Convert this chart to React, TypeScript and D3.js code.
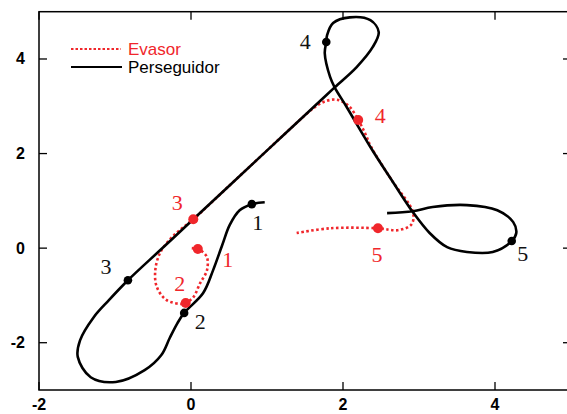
import React from "react";
import * as d3 from "d3";

// Trajectory samples in data units [x, y]
const evasorPath: [number, number][] = [
  [0.01, 0.0], [0.09, -0.02], [0.14, -0.06], [0.21, -0.19], [0.21, -0.47],
  [0.12, -0.74], [0.03, -1.04], [-0.07, -1.16], [-0.11, -1.18], [-0.32, -1.1],
  [-0.45, -0.82], [-0.47, -0.47], [-0.41, -0.11], [-0.28, 0.18], [-0.14, 0.39],
  [0.03, 0.61], [0.5, 1.315], [0.91, 1.93], [1.3, 2.515], [1.5, 2.81],
  [1.62, 2.97], [1.76, 3.1], [1.92, 3.14], [2.08, 3.0], [2.2, 2.71],
  [2.29, 2.43], [2.37, 2.14], [2.64, 1.44], [2.92, 0.76], [2.9, 0.5],
  [2.72, 0.38], [2.46, 0.42], [1.83, 0.42], [1.39, 0.32],
];

const perseguidorPath: [number, number][] = [
  [0.97, 0.97], [0.8, 0.93], [0.64, 0.8], [0.51, 0.49], [0.41, 0.06],
  [0.29, -0.47], [0.16, -0.95], [-0.09, -1.37], [-0.18, -1.59], [-0.28, -1.9],
  [-0.39, -2.26], [-0.61, -2.58], [-0.99, -2.83], [-1.32, -2.73], [-1.49, -2.3],
  [-1.46, -1.95], [-1.28, -1.46], [-1.08, -1.1], [-0.83, -0.68], [-0.4, -0.035],
  [0.03, 0.61], [0.5, 1.315], [0.91, 1.93], [1.3, 2.515], [1.61, 2.98],
  [1.89, 3.4], [2.18, 3.83], [2.39, 4.25], [2.47, 4.57], [2.36, 4.82],
  [2.09, 4.88], [1.87, 4.76], [1.79, 4.5], [1.78, 4.36], [1.76, 4.12],
  [1.83, 3.62], [1.89, 3.4], [2.05, 2.98], [2.36, 2.14], [2.64, 1.44],
  [2.92, 0.76], [3.14, 0.32], [3.37, 0.02], [3.63, -0.08], [3.97, -0.08],
  [4.22, 0.15], [4.28, 0.32], [4.24, 0.55], [4.03, 0.8], [3.63, 0.91],
  [3.18, 0.87], [2.92, 0.78], [2.58, 0.74],
];

// Marked instants 1..5 along each trajectory
const evasorMarks: [number, number][] = [
  [0.09, -0.02], [-0.07, -1.16], [0.03, 0.61], [2.2, 2.71], [2.46, 0.42],
];
const perseguidorMarks: [number, number][] = [
  [0.8, 0.93], [-0.09, -1.37], [-0.83, -0.68], [1.78, 4.36], [4.22, 0.15],
];
const markLabels = ["1", "2", "3", "4", "5"];
// Label offsets in pixels relative to each mark
const evasorLabelOffsets: [number, number][] = [
  [30, 10], [-6, -19], [-16, -17], [22, -4], [-1, 26],
];
const perseguidorLabelOffsets: [number, number][] = [
  [6, 18], [16, 9], [-22, -14], [-21, 0], [11, 12],
];

const xTicks = [-2, 0, 2, 4];
const yTicks = [-2, 0, 2, 4];

const W = 567;
const H = 414;
const left = 39;
const right = 571;
const top = 11.7;
const bottom = 390;

export default function App() {
  const x = d3.scaleLinear().domain([-2, 5]).range([left, right]);
  const y = d3.scaleLinear().domain([-3, 5]).range([bottom, top]);
  const line = d3
    .line<[number, number]>()
    .x((d) => x(d[0]))
    .y((d) => y(d[1]))
    .curve(d3.curveCatmullRom.alpha(0.5));

  const red = "#f0262b";
  const tickLen = 8;
  const tickFont = "Liberation Sans, Arial, sans-serif";
  const numFont = "Liberation Serif, serif";

  return (
    <svg
      width={W}
      height={H}
      style={{ position: "absolute", left: 0, top: 0, background: "#fff" }}
    >
      <path
        d={line(evasorPath) ?? ""}
        fill="none"
        stroke={red}
        strokeWidth={2.6}
        strokeDasharray="2.5,2.5"
      />
      <path d={line(perseguidorPath) ?? ""} fill="none" stroke="#000" strokeWidth={2.6} />

      {evasorMarks.map((d, i) => (
        <g key={"e" + i}>
          <circle cx={x(d[0])} cy={y(d[1])} r={5} fill={red} />
          <text
            x={x(d[0]) + evasorLabelOffsets[i][0]}
            y={y(d[1]) + evasorLabelOffsets[i][1]}
            fill={red}
            fontFamily={numFont}
            fontSize={22}
            textAnchor="middle"
            dominantBaseline="central"
          >
            {markLabels[i]}
          </text>
        </g>
      ))}
      {perseguidorMarks.map((d, i) => (
        <g key={"p" + i}>
          <circle cx={x(d[0])} cy={y(d[1])} r={4.3} fill="#000" />
          <text
            x={x(d[0]) + perseguidorLabelOffsets[i][0]}
            y={y(d[1]) + perseguidorLabelOffsets[i][1]}
            fill="#111"
            fontFamily={numFont}
            fontSize={22}
            textAnchor="middle"
            dominantBaseline="central"
          >
            {markLabels[i]}
          </text>
        </g>
      ))}

      {/* frame */}
      <rect
        x={left}
        y={top}
        width={right - left}
        height={bottom - top}
        fill="none"
        stroke="#000"
        strokeWidth={1.5}
      />
      {xTicks.map((t) => (
        <g key={"xt" + t}>
          <line x1={x(t)} x2={x(t)} y1={bottom} y2={bottom - tickLen} stroke="#000" strokeWidth={1.3} />
          <line x1={x(t)} x2={x(t)} y1={top} y2={top + tickLen} stroke="#000" strokeWidth={1.3} />
          <text
            x={x(t)}
            y={bottom + 14}
            textAnchor="middle"
            dominantBaseline="central"
            fontFamily={tickFont}
            fontWeight="bold"
            fontSize={16}
          >
            {t}
          </text>
        </g>
      ))}
      {yTicks.map((t) => (
        <g key={"yt" + t}>
          <line x1={left} x2={left + tickLen} y1={y(t)} y2={y(t)} stroke="#000" strokeWidth={1.3} />
          <line x1={right} x2={right - tickLen} y1={y(t)} y2={y(t)} stroke="#000" strokeWidth={1.3} />
          <text
            x={left - 14}
            y={y(t)}
            textAnchor="end"
            dominantBaseline="central"
            fontFamily={tickFont}
            fontWeight="bold"
            fontSize={16}
          >
            {t}
          </text>
        </g>
      ))}

      {/* legend */}
      <line x1={71} x2={121} y1={49} y2={49} stroke={red} strokeWidth={2.2} strokeDasharray="2.5,2" />
      <text x={128} y={49} fill={red} fontFamily={tickFont} fontSize={17} dominantBaseline="central">
        Evasor
      </text>
      <line x1={71} x2={122} y1={67} y2={67} stroke="#000" strokeWidth={2.2} />
      <text x={128} y={67} fill="#000" fontFamily={tickFont} fontSize={17} dominantBaseline="central">
        Perseguidor
      </text>
    </svg>
  );
}
